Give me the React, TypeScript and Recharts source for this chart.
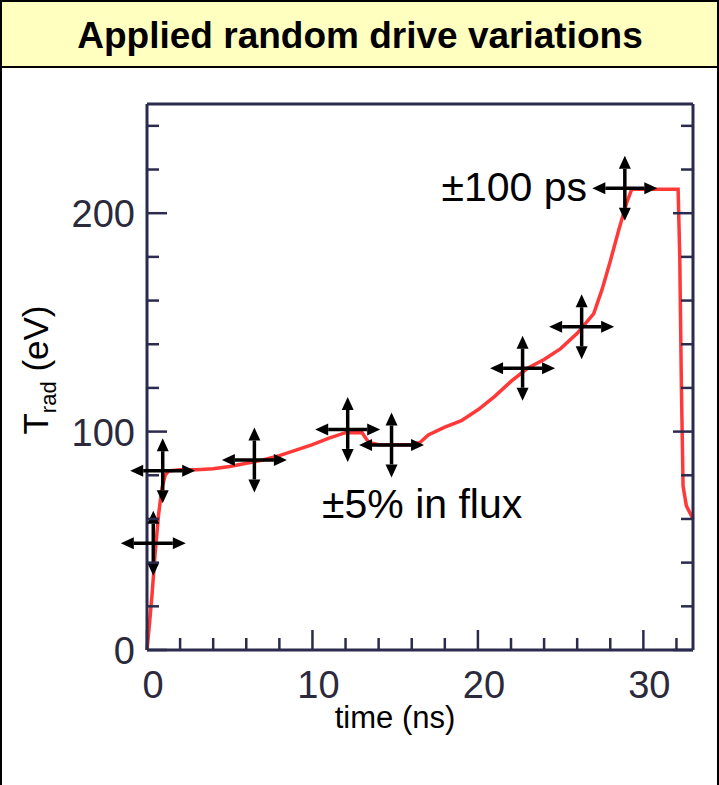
import { ComposedChart, Line, Scatter, XAxis, YAxis } from "recharts";

// radiation temperature drive
const TIME_NS = [
  0, 0.15, 0.3, 0.5, 0.7, 0.9, 1.1, 1.3, 2, 3, 4, 5, 6, 7, 8, 9, 10, 11, 12, 13,
  13.4, 14, 15, 16, 16.5, 17, 18, 19, 20, 21, 22, 23, 24, 25, 26, 27, 27.5, 28,
  28.5, 29, 29.3, 30, 31, 32.1, 32.2, 32.3, 32.4, 32.6, 33,
];
const T_RAD_EV = [
  0, 12, 25, 45, 62, 74, 80, 82, 82.5, 82.5, 83, 84, 85.5, 87, 89, 91.5, 94, 97,
  99.5, 99.5, 95, 94, 94, 94, 95, 98.5, 102, 105, 110, 116, 123, 129, 133, 138,
  145, 154, 165, 178, 192, 205, 211, 211, 211, 211, 180, 120, 75, 66, 60,
];

// where the variation crosses sit
const CROSS_TIME = [0.38, 0.95, 6.49, 12.13, 14.78, 22.7, 26.27, 28.88];
const CROSS_TRAD = [48.9, 82.1, 87, 101, 93.9, 129, 148, 211.4];

const X_TICKS = [0, 2, 4, 6, 8, 10, 12, 14, 16, 18, 20, 22, 24, 26, 28, 30, 32];
const X_LABELS = [0, 10, 20, 30];
const Y_TICKS = [0, 20, 40, 60, 80, 100, 120, 140, 160, 180, 200, 220, 240];
const Y_LABELS = [0, 100, 200];

const curve = TIME_NS.map((t, i) => ({ t, v: T_RAD_EV[i] }));
const crosses = CROSS_TIME.map((t, i) => ({ t, v: CROSS_TRAD[i] }));

const AXIS = "#2b2b4e";
const TICK_TEXT = "#2a2a3c";
const FONT = "'Liberation Sans', Arial, Helvetica, sans-serif";

function BottomTick({ x, y, payload }: any) {
  const major = X_LABELS.includes(payload.value);
  return (
    <g>
      <line x1={x} x2={x} y1={y} y2={y - (major ? 20 : 12)} stroke={AXIS} strokeWidth={2.5} />
      {major && (
        <text x={x + 6} y={y + 48} textAnchor="middle" fontSize={38} fill={TICK_TEXT} fontFamily={FONT}>
          {payload.value}
        </text>
      )}
    </g>
  );
}

function TopTick({ x, y, payload }: any) {
  const major = X_LABELS.includes(payload.value);
  return <line x1={x} x2={x} y1={y} y2={y + (major ? 20 : 12)} stroke={AXIS} strokeWidth={2.5} />;
}

function LeftTick({ x, y, payload }: any) {
  const major = Y_LABELS.includes(payload.value);
  return (
    <g>
      <line x1={x} x2={x + (major ? 20 : 12)} y1={y} y2={y} stroke={AXIS} strokeWidth={2.5} />
      {major && (
        <text x={x - 12} y={y + 14} textAnchor="end" fontSize={38} fill={TICK_TEXT} fontFamily={FONT}>
          {payload.value}
        </text>
      )}
    </g>
  );
}

function RightTick({ x, y, payload }: any) {
  const major = Y_LABELS.includes(payload.value);
  return <line x1={x} x2={x - (major ? 20 : 12)} y1={y} y2={y} stroke={AXIS} strokeWidth={2.5} />;
}

// double headed arrows in both directions
function Cross({ cx, cy }: any) {
  const a = 32.5;
  const h = 13;
  const w = 6;
  return (
    <g>
      <line x1={cx - a + h} x2={cx + a - h} y1={cy} y2={cy} stroke="#000" strokeWidth={3.5} />
      <line x1={cx} x2={cx} y1={cy - a + h} y2={cy + a - h} stroke="#000" strokeWidth={3.5} />
      <polygon points={`${cx - a},${cy} ${cx - a + h},${cy - w} ${cx - a + h},${cy + w}`} fill="#000" />
      <polygon points={`${cx + a},${cy} ${cx + a - h},${cy - w} ${cx + a - h},${cy + w}`} fill="#000" />
      <polygon points={`${cx},${cy - a} ${cx - w},${cy - a + h} ${cx + w},${cy - a + h}`} fill="#000" />
      <polygon points={`${cx},${cy + a} ${cx - w},${cy + a - h} ${cx + w},${cy + a - h}`} fill="#000" />
    </g>
  );
}

export default function App() {
  return (
    <div
      style={{
        position: "relative",
        width: 719,
        height: 785,
        boxSizing: "border-box",
        borderTop: "2px solid #000",
        borderLeft: "2px solid #000",
        borderRight: "2px solid #000",
        background: "#fff",
        overflow: "hidden",
      }}
    >
      <style>{"body{margin:0}"}</style>
      <div
        style={{
          position: "absolute",
          left: 0,
          top: 0,
          right: 0,
          height: 64,
          background: "#ffffc0",
          borderBottom: "2px solid #000",
        }}
      />
      <div style={{ position: "absolute", left: -2, top: -2 }}>
        <ComposedChart width={719} height={785} margin={{ top: 103, right: 25, bottom: 134, left: 146 }}>
          <XAxis
            xAxisId="b"
            dataKey="t"
            type="number"
            domain={[0, 33]}
            ticks={X_TICKS}
            interval={0}
            height={1}
            tickSize={0}
            tickMargin={0}
            tickLine={false}
            tick={<BottomTick />}
            axisLine={{ stroke: AXIS, strokeWidth: 3 }}
          />
          <XAxis
            xAxisId="t"
            orientation="top"
            type="number"
            domain={[0, 33]}
            ticks={X_TICKS}
            interval={0}
            height={1}
            tickSize={0}
            tickMargin={0}
            tickLine={false}
            tick={<TopTick />}
            axisLine={{ stroke: AXIS, strokeWidth: 3 }}
            allowDataOverflow
          />
          <YAxis
            yAxisId="l"
            dataKey="v"
            type="number"
            domain={[0, 250]}
            ticks={Y_TICKS}
            interval={0}
            width={1}
            tickSize={0}
            tickMargin={0}
            tickLine={false}
            tick={<LeftTick />}
            axisLine={{ stroke: AXIS, strokeWidth: 3 }}
          />
          <YAxis
            yAxisId="r"
            orientation="right"
            type="number"
            domain={[0, 250]}
            ticks={Y_TICKS}
            interval={0}
            width={1}
            tickSize={0}
            tickMargin={0}
            tickLine={false}
            tick={<RightTick />}
            axisLine={{ stroke: AXIS, strokeWidth: 3 }}
            allowDataOverflow
          />
          <Line
            xAxisId="b"
            yAxisId="l"
            data={curve}
            dataKey="v"
            type="linear"
            stroke="#ff3838"
            strokeWidth={3.5}
            dot={false}
            isAnimationActive={false}
          />
          <Scatter
            xAxisId="b"
            yAxisId="l"
            data={crosses}
            dataKey="v"
            shape={<Cross />}
            isAnimationActive={false}
          />
        </ComposedChart>
      </div>
      <svg
        width={719}
        height={785}
        style={{ position: "absolute", left: -2, top: -2, pointerEvents: "none" }}
        fontFamily={FONT}
      >
        <text x={360} y={48} textAnchor="middle" fontSize={37} fontWeight="bold" fill="#000">
          Applied random drive variations
        </text>
        <text x={587} y={201} textAnchor="end" fontSize={41} fill="#000">
          ±100 ps
        </text>
        <text x={322} y={518} fontSize={41} fill="#000">
          ±5% in flux
        </text>
        <text x={395} y={728} textAnchor="middle" fontSize={31} fill="#000">
          time (ns)
        </text>
        <text transform="translate(48,370) rotate(-90)" textAnchor="middle" fontSize={35} fill="#000">
          T
          <tspan fontSize={22} dy={8}>
            rad
          </tspan>
          <tspan dy={-8}> (eV)</tspan>
        </text>
      </svg>
    </div>
  );
}
